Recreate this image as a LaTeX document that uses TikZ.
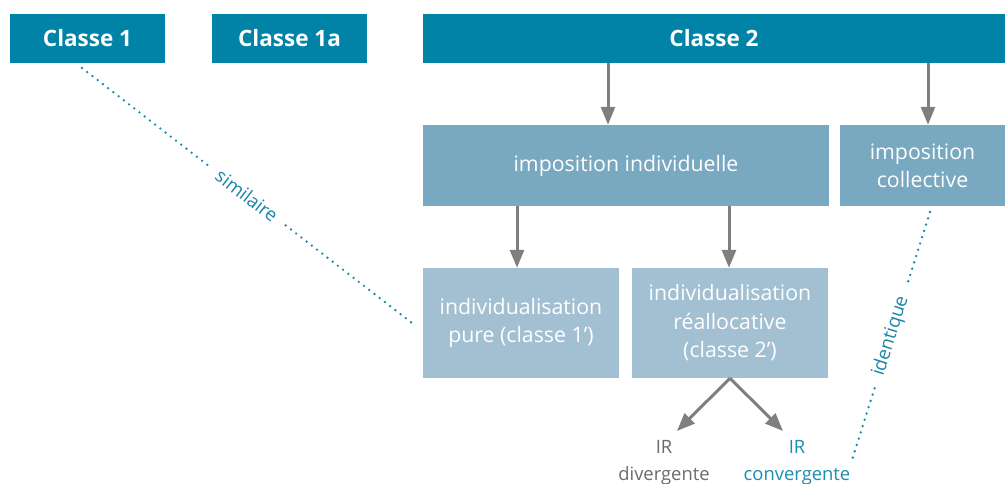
\documentclass[tikz,border=0pt]{standalone}
\usepackage{fontspec}
\setmainfont{Open Sans}
\usetikzlibrary{arrows.meta}
\definecolor{dteal}{HTML}{0083A6}
\definecolor{mblue}{HTML}{79A8C1}
\definecolor{lblue}{HTML}{A3BFD2}
\definecolor{agrey}{HTML}{7F7F7F}
\definecolor{dotc}{HTML}{1A86A8}
\definecolor{tgrey}{HTML}{6B6B6B}
\definecolor{tteal}{HTML}{1A8DB0}
\tikzset{
  topbox/.style={fill=dteal, text=white, font=\fontsize{22.5}{26}\selectfont\bfseries, inner sep=0pt, minimum height=49pt},
  midbox/.style={fill=mblue, text=white, font=\fontsize{21.3}{28}\selectfont, align=center, inner sep=0pt, minimum height=81pt},
  lowbox/.style={fill=lblue, text=white, font=\fontsize{21.3}{28.5}\selectfont, align=center, inner sep=0pt, minimum height=110pt, minimum width=196pt},
  arr/.style={draw=agrey, line width=3pt, -{Triangle[width=14pt,length=18pt]}},
  dotline/.style={draw=dotc, line width=2.6pt, line cap=round, dash pattern=on 0pt off 6.6pt},
  dotlabel/.style={midway, sloped, fill=white, text=dotc, font=\fontsize{18.6}{22}\selectfont, inner xsep=11pt, inner ysep=2pt},
  outtext/.style={font=\fontsize{18.4}{27}\selectfont, align=center, inner sep=0pt}
}
\begin{document}
\begin{tikzpicture}[x=1pt,y=-1pt]
\useasboundingbox (0,0) rectangle (1005,484);
\node[topbox, minimum width=155pt] (c1) at (87.5,38.5) {Classe 1};
\node[topbox, minimum width=155pt] (c1a) at (289.5,38.5) {Classe 1a};
\node[topbox, minimum width=582pt] (c2) at (714,38.5) {Classe 2};
\node[midbox, minimum width=406pt] (indiv) at (626,165.5) {imposition individuelle};
\node[midbox, minimum width=165pt] (coll) at (922.5,165.5) {imposition\\collective};
\node[lowbox] (pure) at (521,323) {individualisation\\pure (classe 1’)};
\node[lowbox] (realloc) at (730,323) {individualisation\\réallocative\\(classe 2’)};
\node[outtext, text=tgrey] (div) at (664,463) {IR\\divergente};
\node[outtext, text=tteal] (conv) at (797,463) {IR\\convergente};
% arrow columns
\coordinate (xa) at (608,0);
\coordinate (xb) at (928,0);
\coordinate (xc) at (517,0);
\coordinate (xd) at (729,0);
\draw[arr] (xa |- c2.south) -- (xa |- indiv.north);
\draw[arr] (xb |- c2.south) -- (xb |- coll.north);
\draw[arr] (xc |- indiv.south) -- (xc |- pure.north);
\draw[arr] (xd |- indiv.south) -- (xd |- realloc.north);
\coordinate (dend) at (677,431);
\coordinate (cend) at (783,431);
\draw[arr] (realloc.south) -- (dend);
\draw[arr] (realloc.south) -- (cend);
% dotted relations
\coordinate (s1) at (82,68);
\coordinate (s2) at (412,323);
\draw[dotline] (s1) -- (s2) node[dotlabel] {similaire};
\coordinate (i1) at (930,212);
\coordinate (i2) at (852,460);
\draw[dotline] (i1) -- (i2) node[dotlabel] {identique};
\end{tikzpicture}
\end{document}
